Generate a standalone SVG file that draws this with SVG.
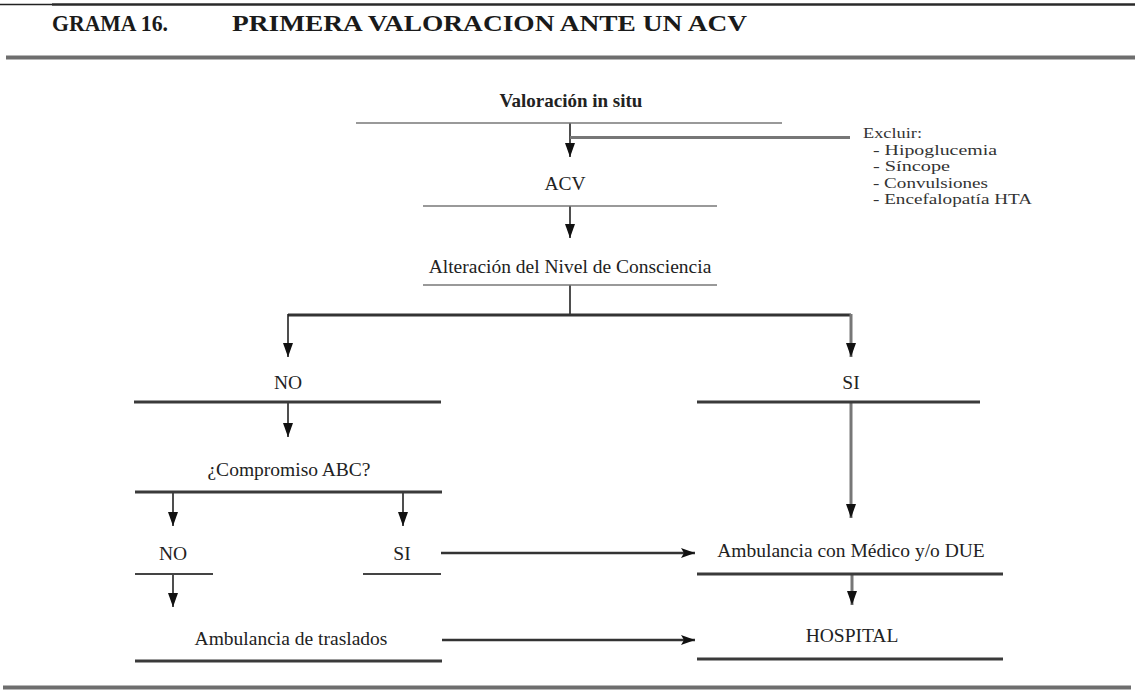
<svg xmlns="http://www.w3.org/2000/svg" width="1135" height="690" viewBox="0 0 1135 690">
  <style>
    .t { font-family: "Liberation Serif", "Times New Roman", serif; font-size: 19.5px; fill: #222; text-anchor: middle; }
    .tb { font-family: "Liberation Serif", "Times New Roman", serif; font-size: 19px; font-weight: bold; fill: #222; text-anchor: middle; }
    .title { font-family: "Liberation Serif", "Times New Roman", serif; font-size: 24px; font-weight: bold; fill: #1a1a1a; }
    .ex { font-family: "Liberation Serif", "Times New Roman", serif; font-size: 14.5px; fill: #333; }
    .thin { stroke: #777; stroke-width: 1.5; fill: none; }
    .bar { stroke: #3a3a3a; stroke-width: 3; fill: none; }
    .bar2 { stroke: #444; stroke-width: 2; fill: none; }
    .c { stroke: #222; stroke-width: 1.6; fill: none; }
    .cg { stroke: #777; stroke-width: 3; fill: none; }
    .ch { stroke: #333; stroke-width: 3; fill: none; }
    .ca { stroke: #333; stroke-width: 2.5; fill: none; }
  </style>
  <defs>
    <!-- small arrowhead for vertical links, drawn pointing along +x -->
    <marker id="down" markerUnits="userSpaceOnUse" markerWidth="14" markerHeight="12" viewBox="0 0 14 12" refX="14" refY="6" orient="auto">
      <path d="M0,1 L14,6 L0,11 Z" fill="#111"/>
    </marker>
    <!-- arrowhead for horizontal links -->
    <marker id="arr" markerUnits="userSpaceOnUse" markerWidth="14" markerHeight="12" viewBox="0 0 14 12" refX="14" refY="6" orient="auto">
      <path d="M0,1 L14,6 L0,11 L3,6 Z" fill="#111"/>
    </marker>
  </defs>

  <!-- page header rules and title -->
  <g id="header">
    <line x1="0" y1="4.5" x2="52" y2="4.5" stroke="#222" stroke-width="1.5"/>
    <line x1="52" y1="4.5" x2="1135" y2="4.5" stroke="#2a2a2a" stroke-width="2.5"/>
    <text class="title" x="52" y="31" textLength="116" lengthAdjust="spacingAndGlyphs">GRAMA 16.</text>
    <text class="title" x="232" y="31" textLength="515" lengthAdjust="spacingAndGlyphs">PRIMERA VALORACION ANTE UN ACV</text>
    <line x1="6" y1="57.5" x2="1135" y2="57.5" stroke="#6e6e6e" stroke-width="4"/>
  </g>

  <!-- connectors -->
  <g id="connectors">
    <line class="c" x1="570" y1="123" x2="570" y2="157" marker-end="url(#down)"/>
    <line x1="570" y1="137.5" x2="850" y2="137.5" stroke="#777" stroke-width="3"/>
    <line class="c" x1="570" y1="206" x2="570" y2="238" marker-end="url(#down)"/>
    <line class="c" x1="570" y1="285" x2="570" y2="315"/>
    <line class="ch" x1="288" y1="315" x2="851" y2="315"/>
    <line class="c" x1="288" y1="314" x2="288" y2="357" marker-end="url(#down)"/>
    <line class="cg" x1="851" y1="314" x2="851" y2="357" marker-end="url(#down)"/>
    <line class="c" x1="288" y1="402" x2="288" y2="437" marker-end="url(#down)"/>
    <line class="cg" x1="851" y1="402" x2="851" y2="518" marker-end="url(#down)"/>
    <line class="c" x1="173" y1="492" x2="173" y2="526" marker-end="url(#down)"/>
    <line class="c" x1="403" y1="492" x2="403" y2="526" marker-end="url(#down)"/>
    <line class="c" x1="173" y1="574" x2="173" y2="607" marker-end="url(#down)"/>
    <line class="ca" x1="441" y1="553" x2="695" y2="553" marker-end="url(#arr)"/>
    <line class="ca" x1="442" y1="640" x2="695" y2="640" marker-end="url(#arr)"/>
    <line class="cg" x1="852" y1="574" x2="852" y2="605" marker-end="url(#down)"/>
  </g>

  <!-- nodes -->
  <g id="valoracion">
    <text class="tb" x="571" y="107">Valoración in situ</text>
    <line class="thin" x1="356" y1="123" x2="782" y2="123"/>
  </g>
  <g id="excluir">
    <text class="ex" x="863" y="138" textLength="59" lengthAdjust="spacingAndGlyphs">Excluir:</text>
    <text class="ex" x="873" y="154.5" textLength="124" lengthAdjust="spacingAndGlyphs">- Hipoglucemia</text>
    <text class="ex" x="873" y="171" textLength="77" lengthAdjust="spacingAndGlyphs">- Síncope</text>
    <text class="ex" x="873" y="187.5" textLength="115" lengthAdjust="spacingAndGlyphs">- Convulsiones</text>
    <text class="ex" x="873" y="204" textLength="159" lengthAdjust="spacingAndGlyphs">- Encefalopatía HTA</text>
  </g>
  <g id="acv">
    <text class="t" x="565" y="190">ACV</text>
    <line class="thin" x1="423" y1="206" x2="717" y2="206"/>
  </g>
  <g id="alteracion">
    <text class="t" x="570" y="273">Alteración del Nivel de Consciencia</text>
    <line class="thin" x1="423" y1="285" x2="717" y2="285"/>
  </g>
  <g id="no1">
    <text class="t" x="288" y="389">NO</text>
    <line class="bar" x1="134" y1="402" x2="441" y2="402"/>
  </g>
  <g id="si1">
    <text class="t" x="851" y="389">SI</text>
    <line class="bar" x1="697" y1="402" x2="980" y2="402"/>
  </g>
  <g id="compromiso">
    <text class="t" x="289" y="476">¿Compromiso ABC?</text>
    <line class="bar" x1="135" y1="492" x2="442" y2="492"/>
  </g>
  <g id="no2">
    <text class="t" x="173" y="560">NO</text>
    <line class="bar2" x1="135" y1="574" x2="213" y2="574"/>
  </g>
  <g id="si2">
    <text class="t" x="402" y="560">SI</text>
    <line class="bar2" x1="363" y1="574" x2="441" y2="574"/>
  </g>
  <g id="traslados">
    <text class="t" x="291" y="645">Ambulancia de traslados</text>
    <line class="bar" x1="135" y1="661" x2="442" y2="661"/>
  </g>
  <g id="medico">
    <text class="t" x="851" y="557">Ambulancia con Médico y/o DUE</text>
    <line class="bar" x1="697" y1="574" x2="1003" y2="574"/>
  </g>
  <g id="hospital">
    <text class="t" x="852" y="642">HOSPITAL</text>
    <line class="bar" x1="697" y1="659" x2="1003" y2="659"/>
  </g>

  <!-- page footer rule -->
  <g id="footer">
    <line x1="3" y1="687.5" x2="1131" y2="687.5" stroke="#6e6e6e" stroke-width="4"/>
  </g>
</svg>
